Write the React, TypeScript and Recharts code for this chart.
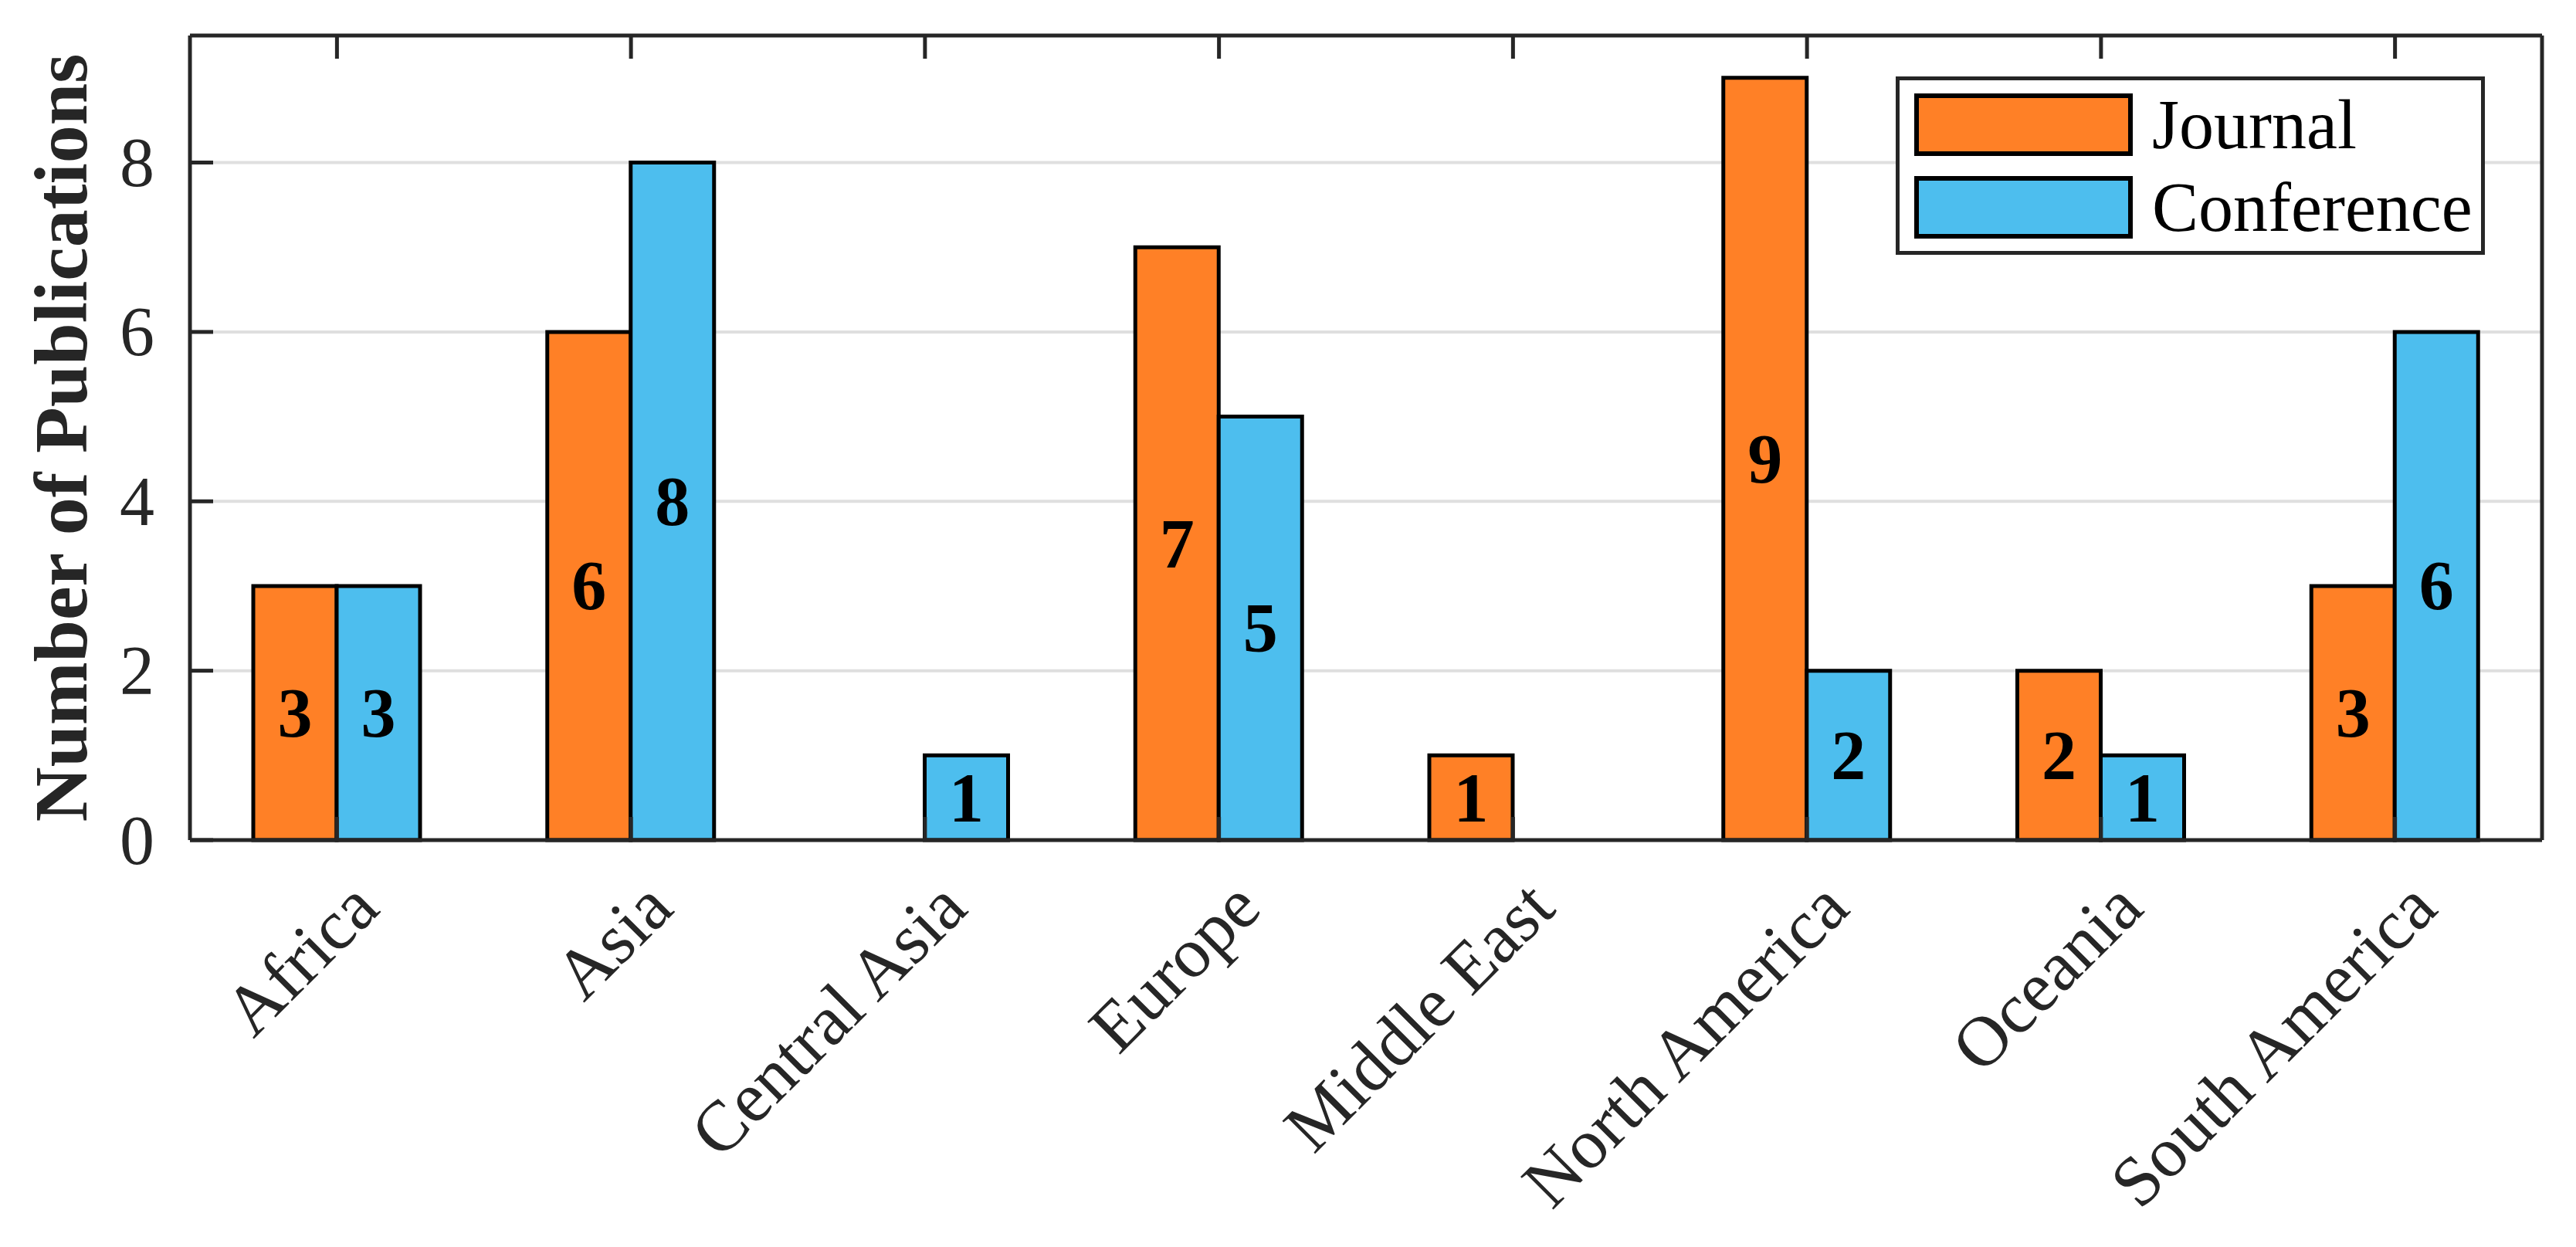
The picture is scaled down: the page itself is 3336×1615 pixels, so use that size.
import { BarChart, Bar, XAxis, YAxis, CartesianGrid, Legend, LabelList } from 'recharts'

const regions = ['Africa', 'Asia', 'Central Asia', 'Europe', 'Middle East', 'North America', 'Oceania', 'South America']
const journal = [3, 6, 0, 7, 1, 9, 2, 3]
const conference = [3, 8, 1, 5, 0, 2, 1, 6]
const yTicks = [0, 2, 4, 6, 8]
const seriesOrder = ['Journal', 'Conference']

const data = regions.map((region, i) => ({ region, journal: journal[i], conference: conference[i] }))

const FONT = "'Liberation Serif', 'Times New Roman', serif"
const AXIS = '#262626'
const ORANGE = '#FF8026'
const BLUE = '#4DBEEE'
const TICK_LEN = 30

// left y ticks: label outside, short tick line inward
function LeftTick(props: any) {
  const { x, y, payload } = props
  const ax = x + 46
  return (
    <g>
      <line x1={ax} y1={y} x2={ax + TICK_LEN} y2={y} stroke={AXIS} strokeWidth={5} />
      <text x={x} y={y} textAnchor="end" dominantBaseline="central" fontSize={90} fontFamily={FONT} fill={AXIS}>
        {payload.value}
      </text>
    </g>
  )
}

function RightTick(props: any) {
  const { x, y } = props
  return <line x1={x} y1={y} x2={x - TICK_LEN} y2={y} stroke={AXIS} strokeWidth={5} />
}

function TopTick(props: any) {
  const { x, y } = props
  return <line x1={x} y1={y} x2={x} y2={y + TICK_LEN} stroke={AXIS} strokeWidth={5} />
}

function BottomTick(props: any) {
  const { x, y, payload } = props
  const tx = x + 58
  const ty = y + 92
  return (
    <g>
      <line x1={x} y1={y} x2={x} y2={y - TICK_LEN} stroke={AXIS} strokeWidth={5} />
      <text x={tx} y={ty} textAnchor="end" fontSize={92} fontFamily={FONT} fill={AXIS} transform={`rotate(-45, ${tx}, ${ty})`}>
        {payload.value}
      </text>
    </g>
  )
}

function BarValue(props: any) {
  const { x, y, width, height, value } = props
  if (!value) return null
  return (
    <text
      x={Number(x) + Number(width) / 2}
      y={Number(y) + Number(height) / 2}
      textAnchor="middle"
      dominantBaseline="central"
      fontSize={90}
      fontWeight="bold"
      fontFamily={FONT}
      fill="#000"
    >
      {value}
    </text>
  )
}

function YLabel(props: any) {
  const { viewBox } = props
  const cx = viewBox.x + 33
  const cy = viewBox.y + viewBox.height / 2
  return (
    <text x={cx} y={cy} textAnchor="middle" dominantBaseline="central" fontSize={98} fontWeight="bold" fontFamily={FONT} fill={AXIS} transform={`rotate(-90, ${cx}, ${cy})`}>
      Number of Publications
    </text>
  )
}

function LegendBox(props: any) {
  const items = [...(props.payload || [])].sort((a: any, b: any) => seriesOrder.indexOf(a.value) - seriesOrder.indexOf(b.value))
  return (
    <div style={{ position: 'relative', width: 763, height: 231, boxSizing: 'border-box', border: `5px solid ${AXIS}`, background: '#fff' }}>
      {items.map((p: any, i: number) => (
        <div key={p.value} style={{ position: 'absolute', left: 19, top: 17 + i * 107, display: 'flex', alignItems: 'center', height: 81 }}>
          <div style={{ width: 283, height: 81, boxSizing: 'border-box', border: '6px solid #000', background: p.color }} />
          <span style={{ marginLeft: 25, fontSize: 90, fontFamily: FONT, color: '#000', lineHeight: 1 }}>{p.value}</span>
        </div>
      ))}
    </div>
  )
}

export default function App() {
  return (
    <div style={{ position: 'absolute', left: 0, top: 0, width: 3336, height: 1615, background: '#fff' }}>
      <BarChart width={3336} height={1615} data={data} margin={{ top: 45, right: 43, bottom: 127, left: 46 }} barSize={108} barGap={0}>
        <CartesianGrid vertical={false} stroke="#dfdfdf" strokeWidth={4} xAxisId="b" yAxisId="l" />
        <XAxis
          xAxisId="b"
          dataKey="region"
          height={400}
          tickSize={0}
          tickMargin={0}
          tick={<BottomTick />}
          axisLine={{ stroke: AXIS, strokeWidth: 5 }}
          interval={0}
        />
        <XAxis
          xAxisId="t"
          dataKey="region"
          orientation="top"
          height={1}
          tickSize={0}
          tickMargin={0}
          tick={<TopTick />}
          axisLine={{ stroke: AXIS, strokeWidth: 5 }}
          interval={0}
        />
        <YAxis
          yAxisId="l"
          width={200}
          domain={[0, 9.5]}
          ticks={yTicks}
          tickSize={0}
          tickMargin={46}
          tick={<LeftTick />}
          axisLine={{ stroke: AXIS, strokeWidth: 5 }}
          label={<YLabel />}
        />
        <YAxis
          yAxisId="r"
          orientation="right"
          width={1}
          domain={[0, 9.5]}
          ticks={yTicks}
          tickSize={0}
          tickMargin={0}
          tick={<RightTick />}
          axisLine={{ stroke: AXIS, strokeWidth: 5 }}
        />
        <Legend
          layout="vertical"
          align="center"
          verticalAlign="middle"
          content={<LegendBox />}
          wrapperStyle={{ position: 'absolute', left: 2455, top: 99, width: 763, height: 231 }}
        />
        <Bar xAxisId="b" yAxisId="l" dataKey="journal" name="Journal" fill={ORANGE} stroke="#000" strokeWidth={5} isAnimationActive={false}>
          <LabelList dataKey="journal" content={<BarValue />} />
        </Bar>
        <Bar xAxisId="b" yAxisId="l" dataKey="conference" name="Conference" fill={BLUE} stroke="#000" strokeWidth={5} isAnimationActive={false}>
          <LabelList dataKey="conference" content={<BarValue />} />
        </Bar>
      </BarChart>
    </div>
  )
}
